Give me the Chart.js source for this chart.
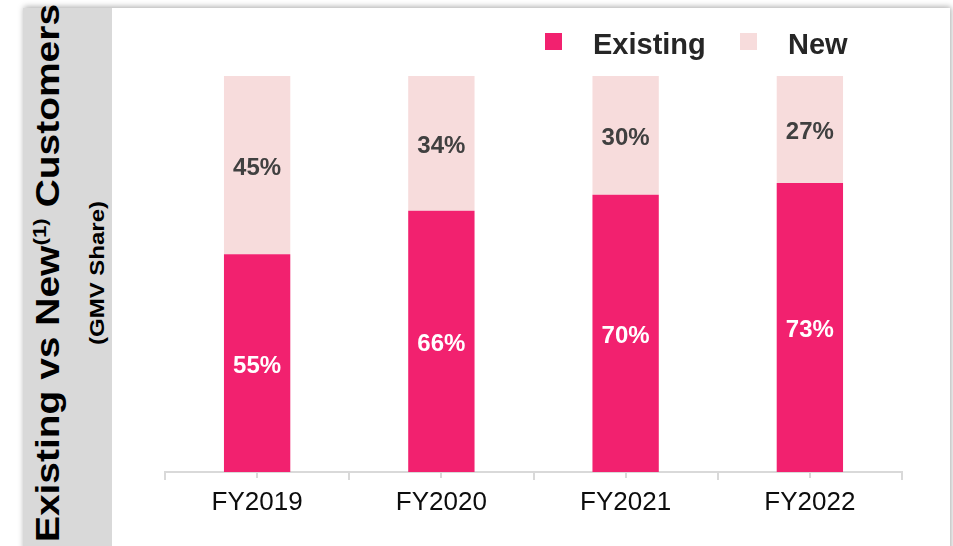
<!DOCTYPE html>
<html>
<head>
<meta charset="utf-8">
<script src="https://cdn.jsdelivr.net/npm/chart.js@4.4.1/dist/chart.umd.min.js"></script>
<style>
  html, body { margin: 0; padding: 0; background: #fff; overflow: hidden; }
  body { width: 953px; height: 546px; position: relative; font-family: "Liberation Sans", Arial, sans-serif; }
  #frame {
    position: absolute; left: 23px; top: 8px; width: 927px; height: 560px;
    background: #fff; box-shadow: 1px -1px 6px rgba(0,0,0,0.35);
  }
  #band { position: absolute; left: 0; top: 0; width: 89px; height: 100%; background: #d9d9d9; }
  .vtitle { position: absolute; width: 0; height: 0; }
  .vtitle span {
    position: absolute; left: 0; top: 0; white-space: nowrap; font-weight: bold; color: #000;
    transform: translate(-50%, -50%) rotate(-90deg) scaleX(1.18);
  }
  #t1 span { font-size: 33px; line-height: 33px; }
  #t1 sup { font-size: 19px; line-height: 0; vertical-align: 13px; }
  #t2 span { font-size: 20px; line-height: 20px; transform: translate(-50%, -50%) rotate(-90deg) scaleX(1.2); }
  canvas { position: absolute; left: 0; top: 0; }
</style>
</head>
<body>
<div id="frame"><div id="band"></div></div>
<div class="vtitle" id="t1" style="left:47px; top:273px;"><span>Existing vs New<sup>(1)</sup> Customers</span></div>
<div class="vtitle" id="t2" style="left:97px; top:273px;"><span>(GMV Share)</span></div>
<canvas id="chart" width="953" height="546"></canvas>
<script>
// data (GMV share, %)
const years = ['FY2019', 'FY2020', 'FY2021', 'FY2022'];
const existingShare = [55, 66, 70, 73];
const newShare = [45, 34, 30, 27];
const seriesNames = ['Existing', 'New'];

const pink = '#f2216f';
const lightPink = '#f7dcdc';

Chart.defaults.font.family = '"Liberation Sans", Arial, sans-serif';

// percent labels in the middle of each segment
const segmentLabels = {
    id: 'segmentLabels',
    afterDatasetsDraw(chart) {
        const ctx = chart.ctx;
        ctx.save();
        ctx.font = 'bold 24px "Liberation Sans", Arial, sans-serif';
        ctx.textAlign = 'center';
        ctx.textBaseline = 'middle';
        chart.data.datasets.forEach((ds, i) => {
            ctx.fillStyle = i === 0 ? '#ffffff' : '#404040';
            chart.getDatasetMeta(i).data.forEach((bar, j) => {
                ctx.fillText(ds.data[j] + '%', bar.x, (bar.y + bar.base) / 2 + 3);
            });
        });
        ctx.restore();
    }
};

// small ticks at the middle of each category + legend at top right
const extras = {
    id: 'extras',
    afterDraw(chart) {
        const ctx = chart.ctx;
        const xs = chart.scales.x;
        ctx.save();
        ctx.strokeStyle = '#d9d9d9';
        ctx.lineWidth = 2;
        years.forEach((y, i) => {
            const px = Math.round(xs.getPixelForValue(i));
            ctx.beginPath();
            ctx.moveTo(px, chart.chartArea.bottom);
            ctx.lineTo(px, chart.chartArea.bottom + 6);
            ctx.stroke();
        });

        // legend
        const legendX = [545, 740];
        ctx.font = 'bold 29px "Liberation Sans", Arial, sans-serif';
        ctx.textBaseline = 'alphabetic';
        ctx.textAlign = 'left';
        chart.data.datasets.forEach((ds, i) => {
            ctx.fillStyle = ds.backgroundColor;
            ctx.fillRect(legendX[i], 33, 17, 17);
            ctx.fillStyle = '#262626';
            ctx.fillText(ds.label, legendX[i] + 48, 54);
        });
        ctx.restore();
    }
};

new Chart(document.getElementById('chart'), {
    type: 'bar',
    data: {
        labels: years,
        datasets: [
            { label: seriesNames[0], data: existingShare, backgroundColor: pink },
            { label: seriesNames[1], data: newShare, backgroundColor: lightPink }
        ]
    },
    options: {
        responsive: false,
        animation: false,
        barPercentage: 0.36,
        categoryPercentage: 1,
        layout: { padding: { left: 165, right: 51, top: 76, bottom: 0 } },
        plugins: { legend: { display: false }, tooltip: { enabled: false } },
        scales: {
            x: {
                stacked: true,
                grid: { offset: true, drawOnChartArea: false, color: '#d9d9d9', lineWidth: 2, tickLength: 8 },
                border: { color: '#d9d9d9', width: 2 },
                ticks: { color: '#0d0d0d', font: { size: 26 }, padding: 7 },
                afterFit(s) { s.height = 74; }
            },
            y: { stacked: true, display: false, min: 0, max: 100 }
        }
    },
    plugins: [segmentLabels, extras]
});
</script>
</body>
</html>
